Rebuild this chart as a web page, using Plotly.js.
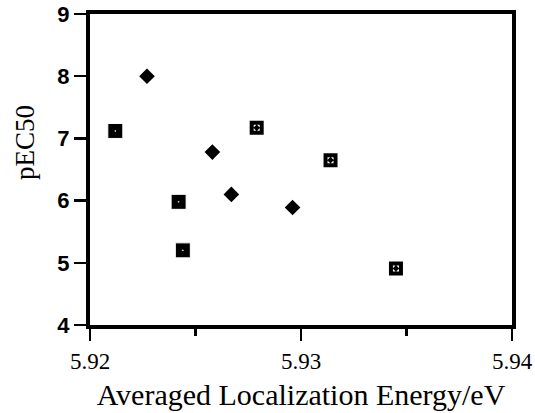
<!DOCTYPE html>
<html>
<head>
<meta charset="utf-8">
<script src="https://cdn.plot.ly/plotly-3.0.1.min.js"></script>
<style>html,body{margin:0;padding:0;background:#fff;}#chart{width:535px;height:413px;}</style>
</head>
<body>
<div id="chart"></div>
<script>
// Series: filled diamonds
var diamondX = [5.9227, 5.9258, 5.9267, 5.9296];
var diamondY = [8.00, 6.78, 6.10, 5.89];
// Series: filled squares
var filledSqX = [5.9212, 5.9242, 5.9244];
var filledSqY = [7.12, 5.98, 5.20];
// Series: open squares
var openSqX = [5.9279, 5.9314, 5.9345];
var openSqY = [7.17, 6.65, 4.91];

var xTickVals = [5.92, 5.93, 5.94];
var xTickText = ['5.92', '5.93', '5.94'];
var yTickVals = [4, 5, 6, 7, 8, 9];

var traces = [
  {x: diamondX, y: diamondY, type: 'scatter', mode: 'markers',
   marker: {symbol: 'diamond', size: 12, color: '#000'}},
  {x: filledSqX, y: filledSqY, type: 'scatter', mode: 'markers',
   marker: {symbol: 'square-dot', size: 15, color: '#000', line: {color: '#fff', width: 1}}},
  {x: openSqX, y: openSqY, type: 'scatter', mode: 'markers',
   marker: {symbol: 'square-open-dot', size: 10, color: '#000', line: {color: '#000', width: 4}}}
];

var layout = {
  width: 535, height: 413,
  margin: {l: 90, r: 23, t: 14, b: 88},
  paper_bgcolor: '#fff', plot_bgcolor: '#fff',
  showlegend: false,
  xaxis: {
    range: [5.92, 5.94], tickvals: xTickVals, ticktext: xTickText,
    ticks: 'outside', ticklen: 12, tickwidth: 2.5, tickcolor: '#000',
    minor: {dtick: 0.005, ticks: 'outside', ticklen: 7, tickwidth: 2.5, tickcolor: '#000', showgrid: false},
    showline: true, linewidth: 4, linecolor: '#000', mirror: true,
    showgrid: false, zeroline: false,
    tickfont: {family: 'Liberation Serif, Times New Roman, serif', size: 23, color: '#000'},
    title: {text: 'Averaged Localization Energy/eV', standoff: 12,
            font: {family: 'Liberation Serif, Times New Roman, serif', size: 30, color: '#000'}}
  },
  yaxis: {
    range: [4, 9], tickvals: yTickVals,
    ticks: 'outside', ticklen: 12, tickwidth: 2.5, tickcolor: '#000',
    showline: true, linewidth: 4, linecolor: '#000', mirror: true,
    showgrid: false, zeroline: false,
    tickfont: {family: 'Liberation Sans, Arial, sans-serif', size: 22, color: '#000', weight: 700}
  },
  annotations: [{
    text: 'pEC50', xref: 'paper', yref: 'paper', x: -0.154, y: 0.585,
    showarrow: false, textangle: -90, xanchor: 'center', yanchor: 'middle',
    font: {family: 'Liberation Serif, Times New Roman, serif', size: 27, color: '#000'}
  }]
};

Plotly.newPlot('chart', traces, layout, {displayModeBar: false, staticPlot: true});
</script>
</body>
</html>
